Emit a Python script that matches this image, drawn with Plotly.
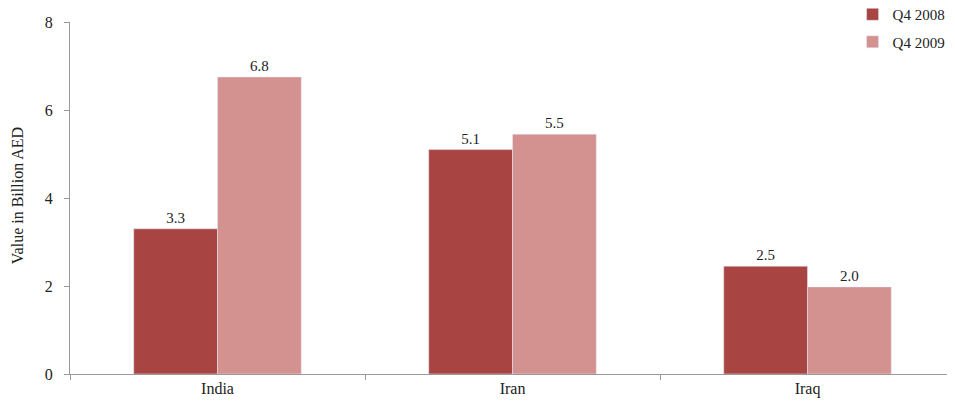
import plotly.graph_objects as go

categories = ["India", "Iran", "Iraq"]
q4_2008 = [3.3, 5.1, 2.45]
q4_2009 = [6.75, 5.45, 1.98]
labels_2008 = ["3.3", "5.1", "2.5"]
labels_2009 = ["6.8", "5.5", "2.0"]

font_family = "Liberation Serif, Times New Roman, serif"

fig = go.Figure()
fig.add_trace(go.Bar(x=categories, y=q4_2008, name="Q4 2008", marker_color="#A84543",
                     legendgroup="a",
                     text=labels_2008, textposition="outside", cliponaxis=False,
                     textfont=dict(size=15, color="#222")))
fig.add_trace(go.Bar(x=categories, y=q4_2009, name="Q4 2009", marker_color="#D39190",
                     legendgroup="b",
                     text=labels_2009, textposition="outside", cliponaxis=False,
                     textfont=dict(size=15, color="#222")))

fig.add_annotation(text="Value in Billion AED", textangle=-90, xref="paper", yref="paper",
                   x=-0.0599, y=0.508, xanchor="center", yanchor="middle", showarrow=False,
                   font=dict(size=16, color="#222"))

fig.update_layout(
    width=947, height=399,
    margin=dict(l=62, r=0, t=14, b=33, autoexpand=False),
    paper_bgcolor="white", plot_bgcolor="white",
    font=dict(family=font_family, size=16, color="#222"),
    barmode="group", bargap=0.432, bargroupgap=0,
    showlegend=True,
    legend=dict(x=0.995, xanchor="right", y=1.068, yanchor="top",
                bgcolor="rgba(0,0,0,0)", font=dict(size=15), itemwidth=30,
                traceorder="grouped", tracegroupgap=5),
    xaxis=dict(showline=True, linecolor="#999", linewidth=1, ticks="outside",
               tickson="boundaries", ticklen=5, tickcolor="#999", showgrid=False,
               automargin=False),
    yaxis=dict(range=[0, 8], dtick=2, showline=True, linecolor="#999", linewidth=1,
               ticks="outside", ticklen=5, tickcolor="#999", showgrid=False, zeroline=False,
               automargin=False, ticklabelstandoff=8),
)
fig.write_html("out.html")
